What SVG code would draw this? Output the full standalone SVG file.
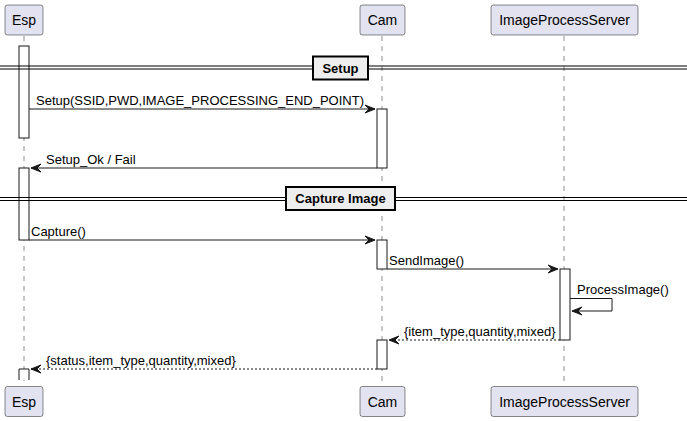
<svg xmlns="http://www.w3.org/2000/svg" width="687" height="421" viewBox="0 0 687 421">
<style>
text{font-family:"Liberation Sans",Arial,sans-serif;fill:#000}
.p rect{fill:#E2E2F0;stroke:#181818;stroke-width:0.5}
.p text{font-size:14px;text-anchor:middle}
.life{stroke:#181818;stroke-width:0.5;stroke-dasharray:5,5}
.act{fill:#FFFFFF;stroke:#181818;stroke-width:1}
.msg{stroke:#181818;stroke-width:1;fill:none}
.dash{stroke-dasharray:2,2}
.m{font-size:13px}
.div line{stroke:#000;stroke-width:1}
.div rect{fill:#EEEEEE;stroke:#000;stroke-width:2}
.div text{font-size:13px;font-weight:bold;text-anchor:middle}
.ah{fill:#181818;stroke:#181818;stroke-width:1}
</style>
<g id="lifelines">
<line class="life" x1="24" y1="36" x2="24" y2="386"/>
<line class="life" x1="382" y1="36" x2="382" y2="386"/>
<line class="life" x1="564" y1="36" x2="564" y2="386"/>
</g>
<g id="Esp" class="p">
<rect x="5" y="5" width="38" height="30" rx="2.5"/>
<text x="24" y="25">Esp</text>
<rect x="5" y="386.5" width="38" height="30" rx="2.5"/>
<text x="24" y="406.5">Esp</text>
</g>
<g id="Cam" class="p">
<rect x="360" y="5" width="45" height="30" rx="2.5"/>
<text x="382.5" y="25">Cam</text>
<rect x="360" y="386.5" width="45" height="30" rx="2.5"/>
<text x="382.5" y="406.5">Cam</text>
</g>
<g id="ImageProcessServer" class="p">
<rect x="491" y="5" width="147" height="30" rx="2.5"/>
<text x="564.5" y="25">ImageProcessServer</text>
<rect x="491" y="386.5" width="147" height="30" rx="2.5"/>
<text x="564.5" y="406.5">ImageProcessServer</text>
</g>
<g id="activations">
<rect class="act" x="19" y="46" width="10" height="92"/>
<rect class="act" x="19" y="168" width="10" height="72"/>
<path class="act" d="M19,380 L19,369 L29,369 L29,380"/>
<rect class="act" x="377" y="109" width="10" height="59"/>
<rect class="act" x="377" y="240" width="10" height="29"/>
<rect class="act" x="377" y="340" width="10" height="29"/>
<rect class="act" x="560" y="269" width="10" height="71"/>
</g>
<g id="divider-setup" class="div">
<line x1="0" y1="66" x2="687" y2="66"/>
<line x1="0" y1="69" x2="687" y2="69"/>
<rect x="313" y="56.5" width="55" height="23"/>
<text x="340.5" y="72.5">Setup</text>
</g>
<g id="divider-capture" class="div">
<line x1="0" y1="197.5" x2="687" y2="197.5"/>
<line x1="0" y1="200.5" x2="687" y2="200.5"/>
<rect x="286" y="187" width="109" height="23"/>
<text x="340.5" y="203">Capture Image</text>
</g>
<g id="connectors">
<line class="msg" x1="29" y1="109" x2="375" y2="109"/>
<polygon class="ah" points="365,105 375,109 365,113 369,109"/>
<text class="m" x="36" y="104.5">Setup(SSID,PWD,IMAGE_PROCESSING_END_POINT)</text>

<line class="msg" x1="377" y1="168" x2="31" y2="168"/>
<polygon class="ah" points="41,164 31,168 41,172 37,168"/>
<text class="m" x="46" y="163.5">Setup_Ok / Fail</text>

<line class="msg" x1="29" y1="240" x2="375" y2="240"/>
<polygon class="ah" points="365,236 375,240 365,244 369,240"/>
<text class="m" x="31" y="235.5">Capture()</text>

<line class="msg" x1="387" y1="269" x2="558" y2="269"/>
<polygon class="ah" points="548,265 558,269 548,273 552,269"/>
<text class="m" x="389" y="264.5">SendImage()</text>

<polyline class="msg" points="570,298.5 612,298.5 612,311 572,311"/>
<polygon class="ah" points="582,307 572,311 582,315 578,311"/>
<text class="m" x="577" y="294">ProcessImage()</text>

<line class="msg dash" x1="560" y1="340" x2="389" y2="340"/>
<polygon class="ah" points="399,336 389,340 399,344 395,340"/>
<text class="m" x="404" y="335.5">{item_type,quantity,mixed}</text>

<line class="msg dash" x1="377" y1="369" x2="31" y2="369"/>
<polygon class="ah" points="41,365 31,369 41,373 37,369"/>
<text class="m" x="46" y="364.5">{status,item_type,quantity,mixed}</text>
</g>
</svg>
